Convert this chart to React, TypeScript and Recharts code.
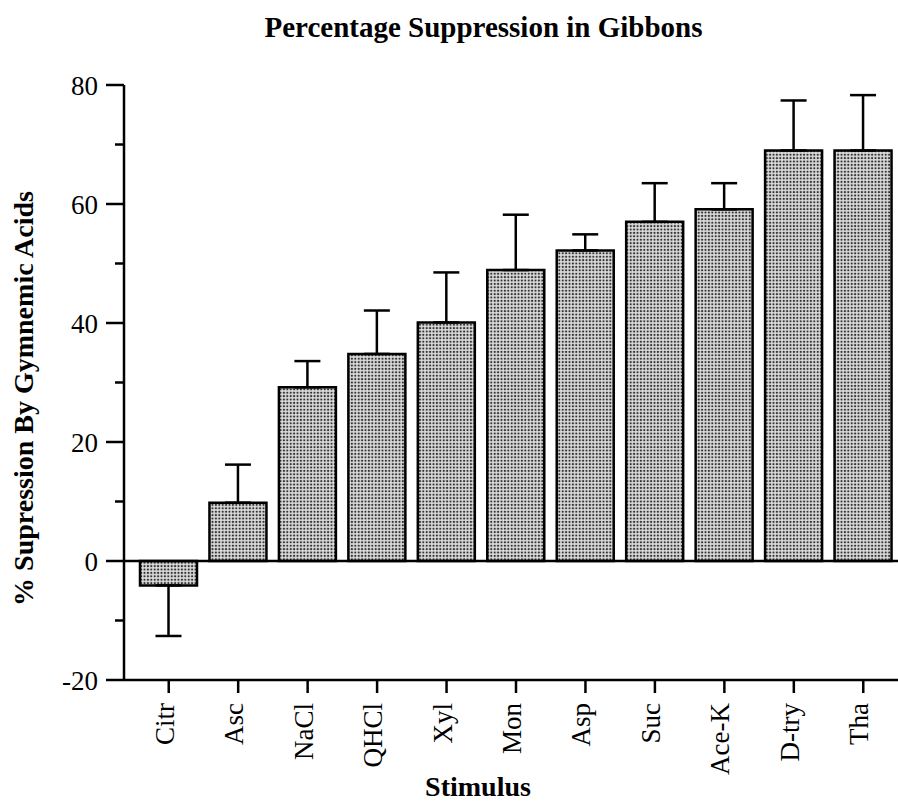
import React from 'react';
import { BarChart, Bar, XAxis, YAxis, ErrorBar, ReferenceLine } from 'recharts';

const categories = ['Citr', 'Asc', 'NaCl', 'QHCl', 'Xyl', 'Mon', 'Asp', 'Suc', 'Ace-K', 'D-try', 'Tha'];
const suppression = [-4.1, 9.8, 29.2, 34.8, 40.1, 48.9, 52.2, 57.0, 59.1, 69.0, 69.0];
const errors = [8.5, 6.4, 4.4, 7.3, 8.4, 9.3, 2.7, 6.5, 4.4, 8.4, 9.3];
const yTicks = [-20, -10, 0, 10, 20, 30, 40, 50, 60, 70, 80];
const yLabelTicks = [-20, 0, 20, 40, 60, 80];

const data = categories.map((c, i) => ({
  name: c,
  value: suppression[i],
  err: suppression[i] < 0 ? [errors[i], 0] : [0, errors[i]],
}));

const FONT = '"Liberation Serif", "Times New Roman", serif';
const W = 898;
const H = 804;
const AXIS_X = 124;

const YTick = (props: any) => {
  const { y, payload } = props;
  const major = yLabelTicks.includes(payload.value);
  const len = major ? 18 : 9;
  return (
    <g>
      <line x1={AXIS_X - len} x2={AXIS_X} y1={y} y2={y} stroke="#000" strokeWidth={2.5} />
      {major && (
        <text x={AXIS_X - 26} y={y + 10} textAnchor="end" fontFamily={FONT} fontSize={27} fill="#000">
          {payload.value}
        </text>
      )}
    </g>
  );
};

const XTick = (props: any) => {
  const { x, y, payload } = props;
  const tx = x + 5;
  const ty = y + 10;
  return (
    <text
      x={tx}
      y={ty}
      transform={`rotate(-90 ${tx} ${ty})`}
      textAnchor="end"
      fontFamily={FONT}
      fontSize={27}
      fill="#000"
    >
      {payload.value}
    </text>
  );
};

export default function App() {
  return (
    <div style={{ position: 'absolute', left: 0, top: 0, width: W, height: H, background: '#fff' }}>
      <svg width={0} height={0} style={{ position: 'absolute' }}>
        <defs>
          <pattern id="dots" width={3.4} height={3.4} patternUnits="userSpaceOnUse">
            <rect width={3.4} height={3.4} fill="#dcdcdc" />
            <circle cx={1.7} cy={1.7} r={1.1} fill="#333" />
          </pattern>
        </defs>
      </svg>
      <BarChart
        width={W}
        height={H}
        data={data}
        margin={{ top: 85, right: 0, bottom: 0, left: 0 }}
        barSize={57}
      >
        <XAxis
          dataKey="name"
          height={124}
          padding={{ left: 10, right: 0 }}
          axisLine={{ stroke: '#000', strokeWidth: 2.5 }}
          tickLine={{ stroke: '#000', strokeWidth: 2.5 }}
          tickSize={13}
          tickMargin={0}
          tick={<XTick />}
          interval={0}
        />
        <YAxis
          width={AXIS_X}
          domain={[-20, 80]}
          ticks={yTicks}
          interval={0}
          axisLine={{ stroke: '#000', strokeWidth: 2.5 }}
          tickLine={false}
          tick={<YTick />}
        />
        <ReferenceLine y={0} stroke="#000" strokeWidth={2.5} />
        <Bar dataKey="value" fill="url(#dots)" stroke="#000" strokeWidth={2.5} isAnimationActive={false}>
          <ErrorBar dataKey="err" width={13} stroke="#000" strokeWidth={2.5} direction="y" isAnimationActive={false} />
        </Bar>
      </BarChart>
      <svg width={W} height={H} style={{ position: 'absolute', left: 0, top: 0, pointerEvents: 'none' }}>
        <text x={483.5} y={36.5} textAnchor="middle" fontFamily={FONT} fontWeight="bold" fontSize={29} fill="#000">
          Percentage Suppression in Gibbons
        </text>
        <text
          x={33}
          y={398.5}
          transform="rotate(-90 33 398.5)"
          textAnchor="middle"
          fontFamily={FONT}
          fontWeight="bold"
          fontSize={28}
          fill="#000"
        >
          % Supression By Gymnemic Acids
        </text>
        <text x={478} y={796} textAnchor="middle" fontFamily={FONT} fontWeight="bold" fontSize={28} fill="#000">
          Stimulus
        </text>
      </svg>
    </div>
  );
}
